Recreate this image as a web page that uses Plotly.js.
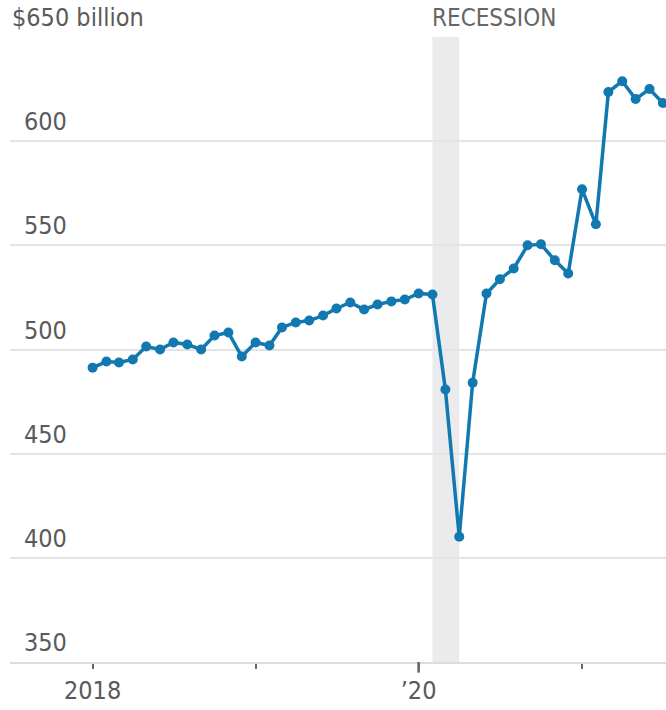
<!DOCTYPE html>
<html>
<head>
<meta charset="utf-8">
<script src="https://cdn.plot.ly/plotly-3.0.1.min.js"></script>
<style>
  body { margin: 0; background: #fff; }
  #chart { width: 666px; height: 710px; }
</style>
</head>
<body>
<div id="chart"></div>
<script>
// monthly values, $ billion
const months = [
    '2018-01-01', '2018-02-01', '2018-03-01', '2018-04-01', '2018-05-01', '2018-06-01',
    '2018-07-01', '2018-08-01', '2018-09-01', '2018-10-01', '2018-11-01', '2018-12-01',
    '2019-01-01', '2019-02-01', '2019-03-01', '2019-04-01', '2019-05-01', '2019-06-01',
    '2019-07-01', '2019-08-01', '2019-09-01', '2019-10-01', '2019-11-01', '2019-12-01',
    '2020-01-01', '2020-02-01', '2020-03-01', '2020-04-01', '2020-05-01', '2020-06-01',
    '2020-07-01', '2020-08-01', '2020-09-01', '2020-10-01', '2020-11-01', '2020-12-01',
    '2021-01-01', '2021-02-01', '2021-03-01', '2021-04-01', '2021-05-01', '2021-06-01',
    '2021-07-01'
];
const values = [
    491.3, 494.2, 493.8, 495.2, 501.4, 500.0, 503.4, 502.4, 500.0, 506.7, 508.2, 496.6,
    503.4, 501.9, 510.6, 513.0, 513.9, 516.3, 519.7, 522.6, 519.2, 521.6, 523.1, 524.0,
    526.9, 526.4, 480.8, 410.1, 484.1, 526.9, 533.7, 538.9, 550.0, 550.5, 542.8, 536.5,
    576.9, 560.1, 623.6, 628.8, 620.2, 625.0, 618.3
];

const recession = ['2020-02-01', '2020-04-01'];

const yTicks = [350, 400, 450, 500, 550, 600, 650];
const yLabels = ['350', '400', '450', '500', '550', '600', '$650 billion'];
const xTicks = ['2018-01-01', '2019-01-01', '2020-01-01', '2021-01-01'];
const xLabels = ['2018', '', '\u201920', ''];

const font = '"DejaVu Sans Condensed", "Liberation Sans Narrow", "Open Sans", sans-serif';
const grey = '#5a5a5a';
const blue = '#1178b0';

let trace = {
    x: months,
    y: values,
    type: 'scatter',
    mode: 'lines+markers',
    line: { color: blue, width: 3.5 },
    marker: { color: blue, size: 10 },
    hoverinfo: 'x+y'
};

// y labels sit above the gridlines, so draw them as annotations
let annotations = yTicks.map((v, i) => ({
    x: 0, xref: 'paper', y: v, yref: 'y',
    xanchor: 'left', yanchor: 'bottom',
    xshift: i === yTicks.length - 1 ? 0 : 12, yshift: 3,
    text: yLabels[i], showarrow: false,
    font: { family: font, size: 25, color: grey }
}));

annotations.push({
    x: recession[0], xref: 'x', y: 650, yref: 'y',
    xanchor: 'left', yanchor: 'bottom', yshift: 3, xshift: -2,
    text: 'RECESSION', showarrow: false,
    font: { family: font, size: 24, color: '#666' }
});

let layout = {
    width: 666,
    height: 710,
    margin: { t: 37, b: 48, l: 10, r: 0 },
    paper_bgcolor: '#fff',
    plot_bgcolor: '#fff',
    showlegend: false,
    font: { family: font, size: 25, color: grey },
    xaxis: {
        type: 'date',
        range: ['2017-06-30', '2021-07-08'],
        tickvals: xTicks,
        ticktext: xLabels,
        ticks: 'outside',
        ticklen: 5,
        tickwidth: 2,
        tickcolor: '#666',
        showgrid: false,
        showline: true,
        linecolor: '#dcdcdc',
        linewidth: 2,
        zeroline: false,
        tickfont: { family: font, size: 25, color: grey }
    },
    yaxis: {
        range: [350, 650],
        tickvals: yTicks,
        showticklabels: false,
        showgrid: true,
        gridcolor: '#e4e4e4',
        gridwidth: 2,
        zeroline: false,
        fixedrange: true
    },
    shapes: [
        {
            type: 'rect', xref: 'x', yref: 'paper',
            x0: recession[0], x1: recession[1], y0: 0, y1: 1,
            fillcolor: '#ebebed', line: { width: 0 }, layer: 'below'
        },
        {
            // longer tick at the start of 2020
            type: 'line', xref: 'x', yref: 'paper',
            x0: xTicks[2], x1: xTicks[2], y0: 0, y1: -0.017,
            line: { color: '#666', width: 2.5 }
        }
    ],
    annotations: annotations
};

Plotly.newPlot('chart', [trace], layout, { displayModeBar: false, staticPlot: true });
</script>
</body>
</html>
